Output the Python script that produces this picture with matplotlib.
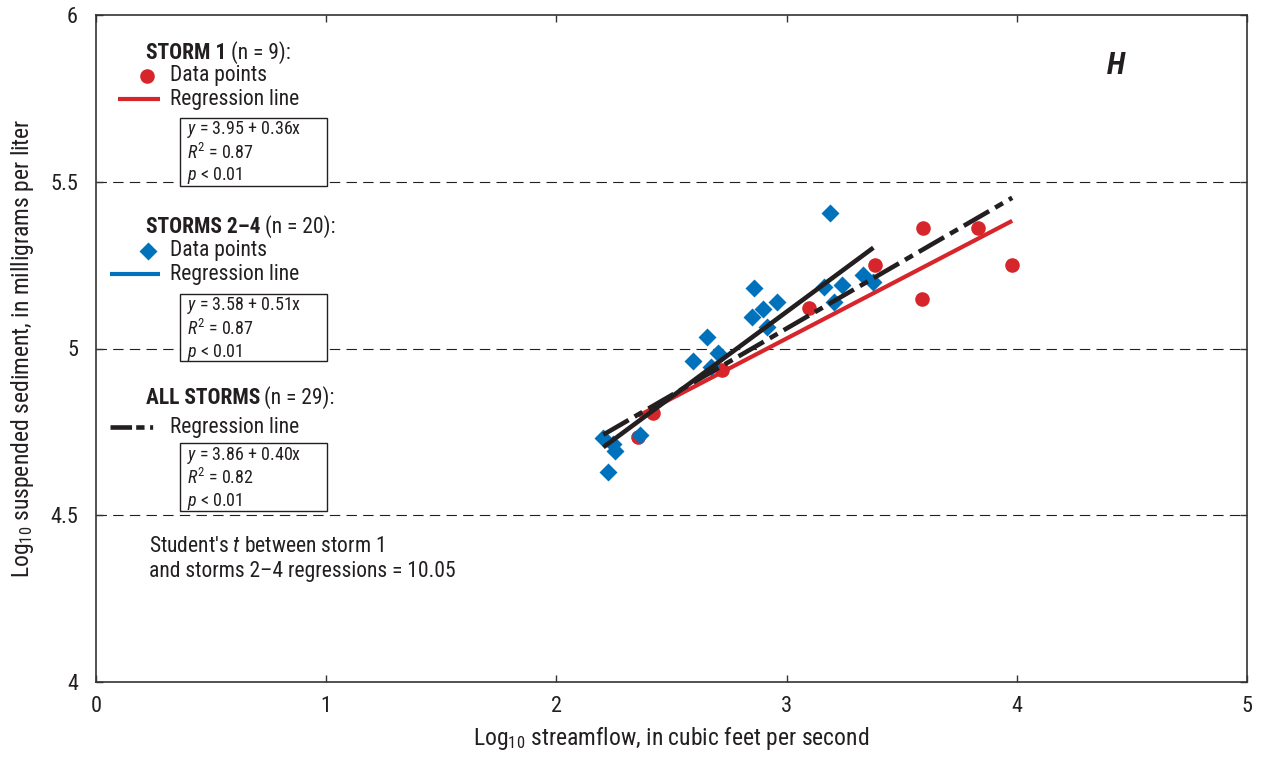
import matplotlib
matplotlib.use("Agg")
import matplotlib.pyplot as plt
from matplotlib.lines import Line2D
from matplotlib.patches import Rectangle
from matplotlib import font_manager as fm
import numpy as np

# ---------------- data ----------------
storm1_x = [2.356, 2.421, 2.718, 3.096, 3.384, 3.587, 3.594, 3.833, 3.980]
storm1_y = [4.736, 4.806, 4.936, 5.120, 5.250, 5.148, 5.362, 5.362, 5.250]

storms24_x = [2.204, 2.247, 2.255, 2.225, 2.363, 2.592, 2.654, 2.670, 2.703, 2.851,
              2.857, 2.899, 2.914, 2.960, 3.164, 3.189, 3.206, 3.242, 3.331, 3.377]
storms24_y = [4.731, 4.714, 4.693, 4.629, 4.741, 4.963, 5.034, 4.945, 4.986, 5.094,
              5.182, 5.118, 5.065, 5.139, 5.184, 5.407, 5.139, 5.190, 5.219, 5.200]

# regression: intercept, slope
storm1_fit = (3.95, 0.36)
storms24_fit = (3.58, 0.51)
all_fit = (3.86, 0.40)

x_ticks = [0, 1, 2, 3, 4, 5]
y_ticks = [4, 4.5, 5, 5.5, 6]
y_ticklabels = ["4", "4.5", "5", "5.5", "6"]
grid_levels = [4.5, 5.0, 5.5]

stats_storm1 = ["3.95 + 0.36x", "0.87", "0.01"]
stats_storms24 = ["3.58 + 0.51x", "0.87", "0.01"]
stats_all = ["3.86 + 0.40x", "0.82", "0.01"]

# ---------------- style ----------------
installed = set(f.name for f in fm.fontManager.ttflist)
MAIN = "Archivo Narrow"
for cand in ["Roboto Condensed", "Archivo Narrow", "Asap Condensed", "Barlow Semi Condensed"]:
    if cand in installed:
        MAIN = cand
        break
FONT = [MAIN, "DejaVu Sans"]
plt.rcParams["font.family"] = FONT
plt.rcParams["mathtext.fontset"] = "custom"
plt.rcParams["mathtext.rm"] = MAIN
plt.rcParams["mathtext.it"] = MAIN + ":italic"
plt.rcParams["mathtext.bf"] = MAIN + ":bold"
plt.rcParams["lines.scale_dashes"] = False

RED = "#D7262B"
BLUE = "#0072BC"
BLACK = "#231F20"
TXT = "#231F20"

W, H = 1263, 757
fig = plt.figure(figsize=(W / 100, H / 100), dpi=100)
ax = fig.add_axes([96 / W, 1 - 682 / H, (1247 - 96) / W, (682 - 15) / H])
ax.set_xlim(0, 5)
ax.set_ylim(4, 6)
ax.set_xticks(x_ticks)
ax.set_xticklabels([str(t) for t in x_ticks])
ax.set_yticks(y_ticks)
ax.set_yticklabels(y_ticklabels)
ax.tick_params(direction="in", length=5, width=1.0, color="#333333",
               top=True, right=True, labelsize=16, labelcolor=TXT)
ax.tick_params(axis="x", pad=10)
ax.tick_params(axis="y", pad=13)
for s in ax.spines.values():
    s.set_linewidth(1.2)
    s.set_color("#333333")

for g in grid_levels:
    ax.axhline(g, color=BLACK, lw=0.8, dashes=(7.5, 4.5), zorder=1)

ax.set_xlabel("Log$_{10}$ streamflow, in cubic feet per second", fontsize=17,
              color=TXT, labelpad=6)
ax.set_ylabel("Log$_{10}$ suspended sediment, in milligrams per liter", fontsize=17,
              color=TXT, labelpad=10)

# regression lines
def fit_line(fit, xs):
    xx = np.array([min(xs), max(xs)])
    return xx, fit[0] + fit[1] * xx

all_x = storm1_x + storms24_x
xx, yy = fit_line(storm1_fit, storm1_x)
ax.plot(xx, yy, color=RED, lw=3.0, solid_capstyle="butt", zorder=3)

# points
ax.plot(storm1_x, storm1_y, "o", color=RED, ms=10.5, mec="none", zorder=4)
ax.plot(storms24_x, storms24_y, "D", color=BLUE, ms=9.5, mec="none", zorder=4)

xx, yy = fit_line(storms24_fit, storms24_x)
ax.plot(xx, yy, color=BLACK, lw=3.3, solid_capstyle="butt", zorder=5)
xx, yy = fit_line(all_fit, all_x)
ax.plot(xx, yy, color=BLACK, lw=3.3, dashes=(21, 5, 6.5, 5), dash_capstyle="butt",
        zorder=5)

# ---------------- annotation legend (pixel positions) ----------------
def fp(x, y):
    return (x / W, 1 - y / H)

def title(xp, yp, bold, rest):
    t = fig.text(*fp(xp, yp), bold, fontsize=15.5, fontweight="bold", color=TXT,
                 va="center", ha="left")
    ax.annotate(rest, xy=(1, 0.5), xycoords=t, xytext=(3, 0),
                textcoords="offset points", fontsize=15.5, color=TXT,
                va="center", ha="left", annotation_clip=False)

def stat_box(x0, y0, x1, y1, stats):
    r = Rectangle(fp(x0, y1), (x1 - x0) / W, (y1 - y0) / H, transform=fig.transFigure,
                  facecolor="white", edgecolor=BLACK, lw=1.0, zorder=6)
    fig.add_artist(r)
    lines = ["$y$ = " + stats[0], "$R^{2}$ = " + stats[1], "$p$ < " + stats[2]]
    for i, s in enumerate(lines):
        fig.text(*fp(x0 + 7, y0 + 12 + i * 23), s, fontsize=13, color=TXT,
                 va="center", ha="left", zorder=7)

# storm 1
title(146, 53, "STORM 1", "(n = 9):")
fig.add_artist(Line2D([147 / W], [1 - 76 / H], marker="o", color=RED, ms=10.5,
                      mec="none", transform=fig.transFigure))
fig.text(*fp(170, 76), "Data points", fontsize=15.5, color=TXT, va="center")
fig.add_artist(Line2D([118 / W, 160 / W], [1 - 99 / H] * 2, color=RED, lw=3.0,
                      transform=fig.transFigure, solid_capstyle="butt"))
fig.text(*fp(170, 100), "Regression line", fontsize=15.5, color=TXT, va="center")
stat_box(180, 118, 327, 186, stats_storm1)

# storms 2-4
title(146, 227, "STORMS 2\u20134", "(n = 20):")
fig.add_artist(Line2D([148 / W], [1 - 251 / H], marker="D", color=BLUE, ms=9.5,
                      mec="none", transform=fig.transFigure))
fig.text(*fp(170, 251), "Data points", fontsize=15.5, color=TXT, va="center")
fig.add_artist(Line2D([110 / W, 160 / W], [1 - 274 / H] * 2, color=BLUE, lw=3.0,
                      transform=fig.transFigure, solid_capstyle="butt"))
fig.text(*fp(170, 275), "Regression line", fontsize=15.5, color=TXT, va="center")
stat_box(180, 294, 327, 361, stats_storms24)

# all storms
title(146, 398, "ALL STORMS", "(n = 29):")
fig.add_artist(Line2D([110 / W, 166 / W], [1 - 427 / H] * 2, color=BLACK, lw=3.3,
                      dashes=(15.5, 3, 6, 4, 2.2, 10), dash_capstyle="butt",
                      transform=fig.transFigure))
fig.text(*fp(170, 427), "Regression line", fontsize=15.5, color=TXT, va="center")
stat_box(180, 443, 327, 511, stats_all)

fig.text(*fp(149, 547), "Student's $t$ between storm 1", fontsize=15.5, color=TXT,
         va="center")
fig.text(*fp(149, 571), "and storms 2\u20134 regressions = 10.05", fontsize=15.5,
         color=TXT, va="center")

fig.text(*fp(1116, 66), "H", fontsize=22, fontweight="bold", fontstyle="italic",
         color=TXT, va="center", ha="center")

fig.savefig("out.png", dpi=100)
